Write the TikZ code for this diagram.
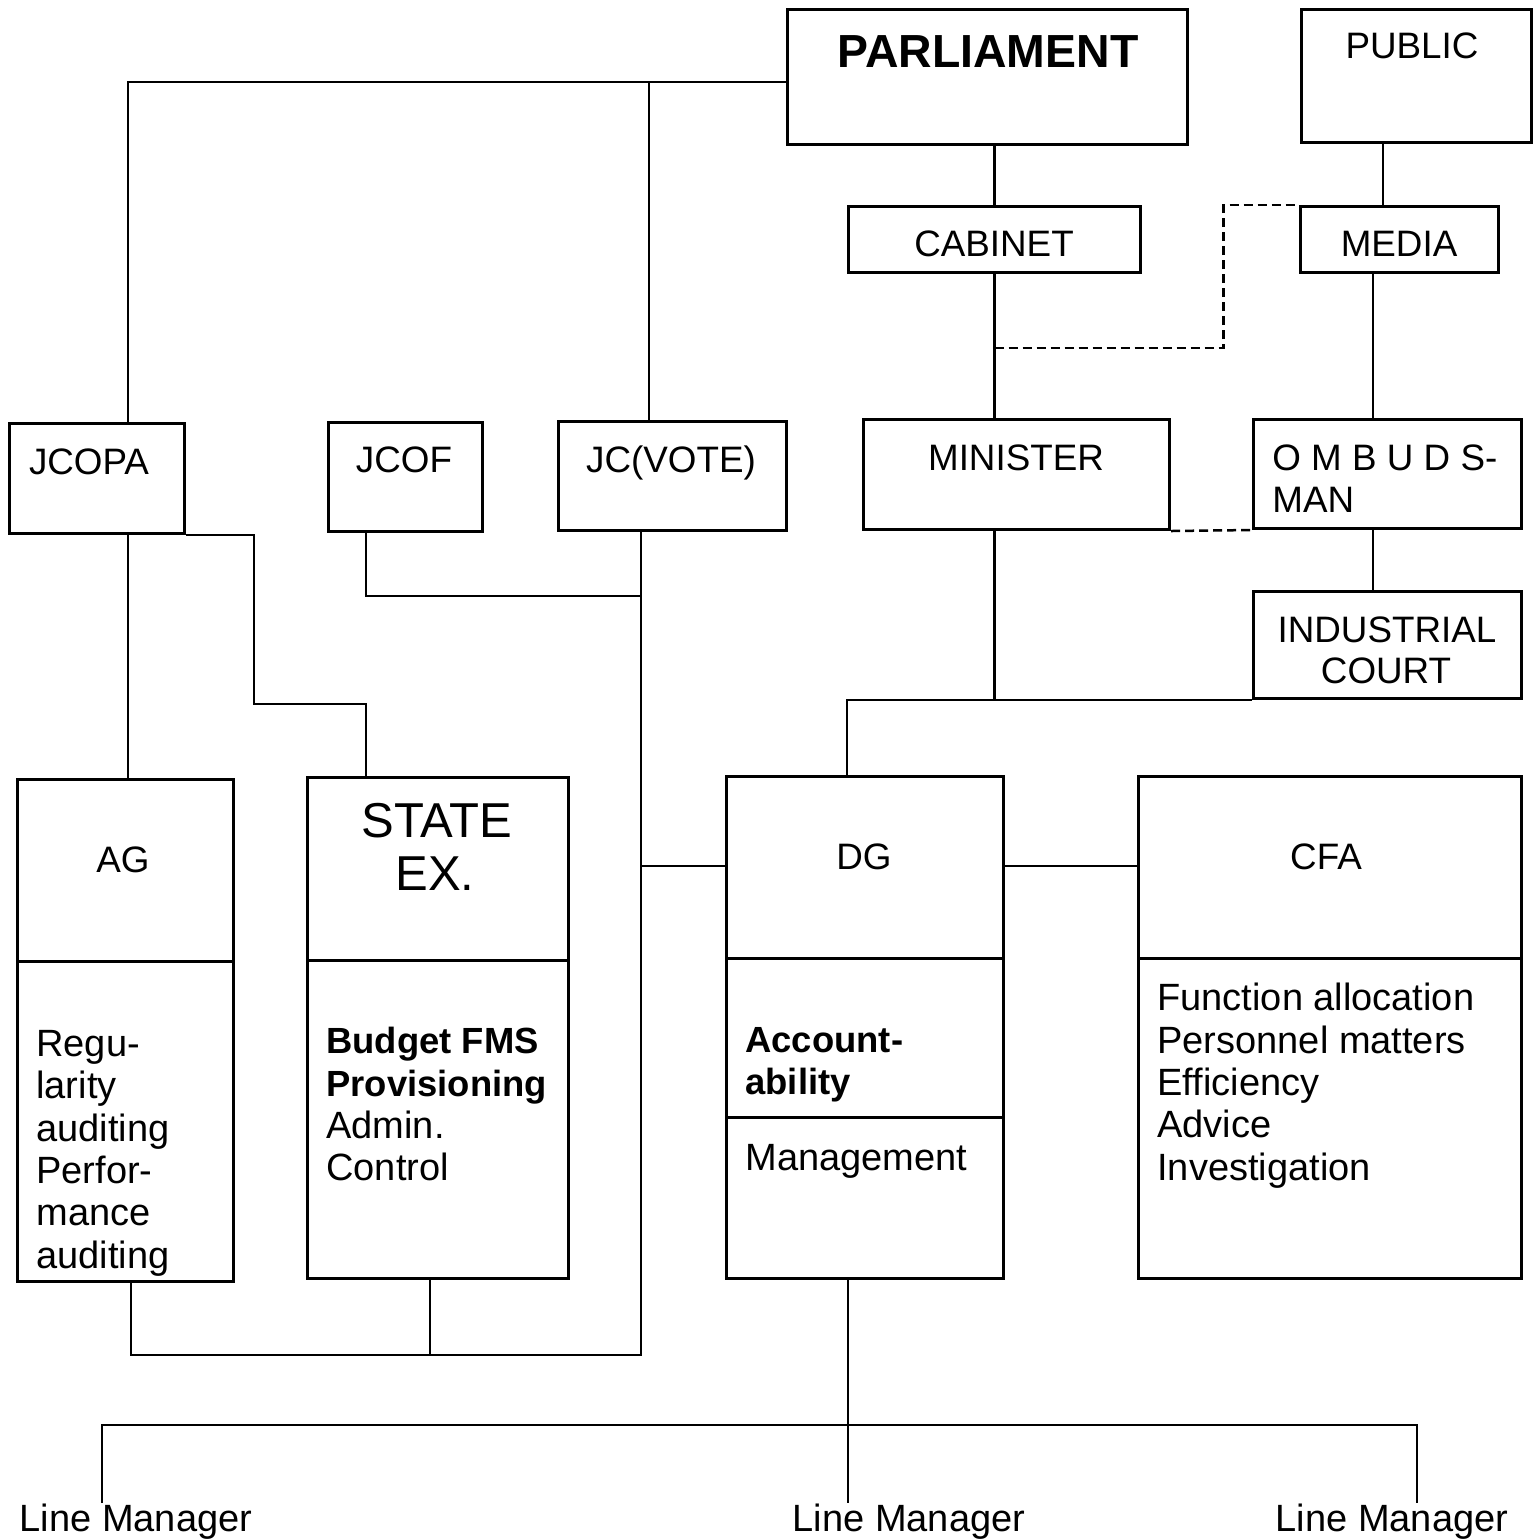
\documentclass[tikz,border=0pt]{standalone}
\usepackage{fontspec}
\setmainfont{Liberation Sans}
\usetikzlibrary{calc}
\begin{document}
\begin{tikzpicture}[x=0.5pt,y=-0.5pt,
  box/.style={draw, line width=1.5pt, inner sep=0pt, anchor=north west},
  conn/.style={line width=1.25pt},
  dashline/.style={line width=1.25pt, dash pattern=on 4.5pt off 2.5pt},
  lbl/.style={inner sep=0pt, anchor=base, font=\fontsize{18.4}{22}\selectfont},
  blk/.style={inner sep=0pt, anchor=north west, align=left, font=\fontsize{19}{21.15}\selectfont},
  big/.style={font=\fontsize{24.5}{27}\selectfont},
  lmfont/.style={font=\fontsize{19}{22}\selectfont}
]
\newcommand{\bl}[1]{{\bfseries\fontsize{18.2}{21.15}\selectfont #1}}
\fill[white] (0,0) rectangle (1540,1539);
\useasboundingbox (0,0) rectangle (1540,1539);

% boxes
\node[box, minimum width=200pt, minimum height=67.5pt] (parl) at (786,8) {};
\node[box, minimum width=115pt, minimum height=66.5pt] (public) at (1300,8) {};
\node[box, minimum width=146pt, minimum height=33pt] (cabinet) at (847,205) {};
\node[box, minimum width=99pt, minimum height=33pt] (media) at (1299,205) {};
\node[box, minimum width=153pt, minimum height=55pt] (minister) at (862,418) {};
\node[box, minimum width=134pt, minimum height=54.5pt] (ombud) at (1252,418) {};
\node[box, minimum width=134pt, minimum height=53.5pt] (indcourt) at (1252,590) {};
\node[box, minimum width=87.5pt, minimum height=55pt] (jcopa) at (8,422) {};
\node[box, minimum width=77pt, minimum height=54.5pt] (jcof) at (327,421) {};
\node[box, minimum width=114pt, minimum height=54.5pt] (jcvote) at (557,420) {};
\node[box, minimum width=108pt, minimum height=251pt] (ag) at (16,778) {};
\node[box, minimum width=130.5pt, minimum height=250.5pt] (stateex) at (306,776) {};
\node[box, minimum width=138.5pt, minimum height=251pt] (dg) at (725,775) {};
\node[box, minimum width=191.5pt, minimum height=251pt] (cfa) at (1137,775) {};

% dividers
\draw[line width=1.5pt] ($(ag.north west)+(0,183)$) -- ($(ag.north east)+(0,183)$);
\draw[line width=1.5pt] ($(stateex.north west)+(0,184)$) -- ($(stateex.north east)+(0,184)$);
\draw[line width=1.5pt] ($(dg.north west)+(0,183)$) -- ($(dg.north east)+(0,183)$);
\draw[line width=1.5pt] ($(dg.north west)+(0,342)$) -- ($(dg.north east)+(0,342)$);
\draw[line width=1.5pt] ($(cfa.north west)+(0,183)$) -- ($(cfa.north east)+(0,183)$);

% labels
\node[lbl, font=\bfseries\fontsize{23.2}{26}\selectfont] (parl-t) at (988,67) {PARLIAMENT};
\node[lbl] (public-t) at (1412,58) {PUBLIC};
\node[lbl] (cabinet-t) at (994,256) {CABINET};
\node[lbl] (media-t) at (1399,256) {MEDIA};
\node[lbl] (minister-t) at (1016,470) {MINISTER};
\node[lbl, anchor=base west] (ombud-t1) at (1272,470) {O M B U D S-};
\node[lbl, anchor=base west] (ombud-t2) at (1272,512) {MAN};
\node[lbl] (ind-t1) at (1387,642) {INDUSTRIAL};
\node[lbl] (ind-t2) at (1386,683) {COURT};
\node[lbl] (jcopa-t) at (89,474) {JCOPA};
\node[lbl] (jcof-t) at (404,472) {JCOF};
\node[lbl] (jcvote-t) at (671,472) {JC(VOTE)};
\node[lbl] (ag-t) at (123,872) {AG};
\node[lbl, big] (se-t1) at (437,837) {STATE};
\node[lbl, big] (se-t2) at (435,890) {EX.};
\node[lbl] (dg-t) at (864,869) {DG};
\node[lbl] (cfa-t) at (1326,869) {CFA};

\node[blk] (ag-b) at (36,1030) {Regu-\\larity\\auditing\\Perfor-\\mance\\auditing};
\node[blk] (se-b) at (326,1027) {\bl{Budget FMS}\\\bl{Provisioning}\\Admin.\\Control};
\node[blk] (dg-b1) at (745,1027) {\bl{Account-}\\\bl{ability}};
\node[blk] (dg-b2) at (745,1144) {Management};
\node[blk] (cfa-b) at (1157,983) {Function allocation\\Personnel matters\\Efficiency\\Advice\\Investigation};

\node[lbl, lmfont] (lm1) at (136,1531) {Line Manager};
\node[lbl, lmfont] (lm2) at (909,1531) {Line Manager};
\node[lbl, lmfont] (lm3) at (1392,1531) {Line Manager};

% connectors
\coordinate (pj) at ($(parl.north west)+(0,74)$);
\draw[conn] (pj) -| ($(jcopa.north west)+(120,0)$);
\coordinate (jvtop) at ($(jcvote.north west)+(92,0)$);
\draw[conn] (jvtop) -- (jvtop |- pj);
\draw[conn] (cabinet.north) -- (cabinet.north |- parl.south);
\draw[conn] (cabinet.south) -- (cabinet.south |- minister.north);
\coordinate (pm) at ($(media.north west)+(84,0)$);
\draw[conn] (pm) -- (pm |- public.south);
\coordinate (mo) at ($(media.south west)+(74,0)$);
\draw[conn] (mo) -- (mo |- ombud.north);
\draw[conn] (mo |- ombud.south) -- (mo |- indcourt.north);
\coordinate (cd) at ($(cabinet.south)+(0,74)$);
\draw[dashline] (cd) -- ++(229,0) |- (media.north west);
\draw[dashline] (minister.south east) -- (ombud.south west);
\coordinate (dgt) at ($(dg.north west)+(122,0)$);
\draw[conn] (cabinet.south |- minister.south) -- (cabinet.south |- indcourt.south);
\draw[conn] (indcourt.south west) -- (dgt |- indcourt.south) -- (dgt);

\coordinate (ja) at ($(jcopa.south west)+(120,0)$);
\draw[conn] (ja) -- (ja |- ag.north);
\coordinate (setop) at ($(stateex.north west)+(60,0)$);
\draw[conn] (jcopa.south east) -- ++(68,0) -- ++(0,169) -| (setop);
\coordinate (jf) at ($(jcof.south west)+(39,0)$);
\coordinate (jx) at ($(jcvote.south west)+(84,0)$);
\draw[conn] (jf) |- ($(jx)+(0,64)$);
\coordinate (bus) at ($(ag.south west)+(115,72)$);
\draw[conn] (jx) |- (bus) -- ($(ag.south west)+(115,0)$);
\coordinate (sb) at ($(stateex.south west)+(124,0)$);
\draw[conn] (sb) -- (sb |- bus);
\coordinate (d1) at ($(dg.north west)+(0,91)$);
\draw[conn] (d1) -- (d1 -| jx);
\draw[conn] (d1 -| dg.east) -- (d1 -| cfa.west);
\coordinate (d2) at ($(dg.south west)+(123,0)$);
\draw[conn] (d2) -- (d2 |- lm2.north);
\coordinate (barL) at (102,1425);
\coordinate (barR) at (1417,1425);
\draw[conn] (barL |- lm1.north) -- (barL) -- (barR) -- (barR |- lm3.north);
\end{tikzpicture}
\end{document}
